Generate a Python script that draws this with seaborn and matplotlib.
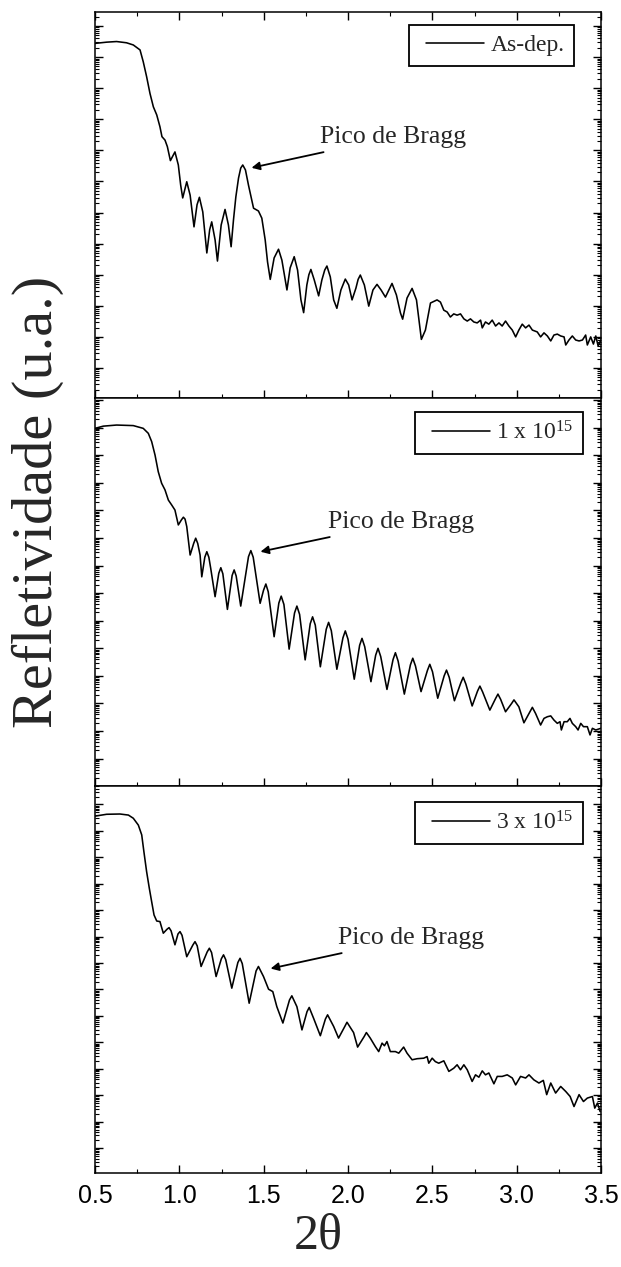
import numpy as np
import pandas as pd
import matplotlib
matplotlib.use("Agg")
import matplotlib.pyplot as plt
import seaborn as sns
from matplotlib.ticker import LogLocator, MultipleLocator, NullFormatter
from matplotlib.legend_handler import HandlerLine2D
from matplotlib.lines import Line2D

# ---------------- data (2theta in degrees, log10 of reflectivity, a.u.) ----------------
x_asdep = [0.500, 0.569, 0.628, 0.687, 0.727, 0.767, 0.786, 0.806, 0.826, 0.846, 0.866, 0.885,
           0.897, 0.915, 0.929, 0.947, 0.974, 0.994, 1.008, 1.020, 1.044, 1.064, 1.087, 1.105,
           1.119, 1.139, 1.163, 1.180, 1.192, 1.212, 1.226, 1.248, 1.271, 1.291, 1.307, 1.321,
           1.335, 1.351, 1.364, 1.376, 1.392, 1.410, 1.440, 1.469, 1.489, 1.509, 1.523, 1.539,
           1.562, 1.588, 1.608, 1.638, 1.657, 1.681, 1.701, 1.721, 1.737, 1.756, 1.768, 1.780,
           1.800, 1.826, 1.845, 1.862, 1.875, 1.895, 1.915, 1.934, 1.958, 1.984, 2.004, 2.024,
           2.047, 2.060, 2.073, 2.097, 2.123, 2.148, 2.172, 2.196, 2.222, 2.261, 2.287, 2.311,
           2.324, 2.350, 2.380, 2.406, 2.435, 2.459, 2.489, 2.528, 2.548, 2.568, 2.588, 2.607,
           2.627, 2.647, 2.667, 2.687, 2.707, 2.726, 2.746, 2.766, 2.786, 2.796, 2.815, 2.835,
           2.855, 2.875, 2.895, 2.914, 2.934, 2.954, 2.974, 2.994, 3.013, 3.033, 3.053, 3.073,
           3.093, 3.122, 3.142, 3.162, 3.182, 3.202, 3.221, 3.241, 3.261, 3.281, 3.291, 3.310,
           3.330, 3.350, 3.370, 3.390, 3.409, 3.419, 3.439, 3.455, 3.469, 3.483, 3.499]
logR_asdep = [10.44, 10.48, 10.50, 10.46, 10.39, 10.23, 9.85, 9.37, 8.83, 8.40, 8.14, 7.76,
              7.44, 7.33, 7.12, 6.67, 6.95, 6.53, 5.88, 5.47, 5.99, 5.56, 4.54, 5.25,
              5.49, 5.02, 3.70, 4.45, 4.70, 4.12, 3.44, 4.60, 5.10, 4.60, 3.90, 4.76,
              5.50, 6.11, 6.43, 6.53, 6.37, 5.88, 5.14, 5.05, 4.82, 4.12, 3.41, 2.85,
              3.54, 3.82, 3.47, 2.51, 3.22, 3.58, 3.15, 2.19, 1.78, 2.67, 3.00, 3.17,
              2.83, 2.32, 2.83, 3.15, 3.28, 2.93, 2.19, 1.92, 2.51, 2.86, 2.67, 2.19,
              2.57, 2.85, 2.99, 2.67, 1.99, 2.51, 2.69, 2.51, 2.28, 2.72, 2.35, 1.77,
              1.57, 2.25, 2.56, 2.19, 0.92, 1.22, 2.09, 2.19, 2.12, 1.86, 1.80, 1.64,
              1.74, 1.70, 1.74, 1.58, 1.51, 1.58, 1.48, 1.45, 1.54, 1.29, 1.48, 1.41,
              1.54, 1.35, 1.45, 1.35, 1.51, 1.35, 1.22, 1.00, 1.22, 1.41, 1.29, 1.38,
              1.22, 1.16, 1.00, 1.13, 1.03, 0.87, 1.06, 1.09, 1.03, 1.00, 0.74, 0.90,
              1.03, 0.90, 0.87, 0.90, 1.06, 0.74, 1.00, 0.77, 1.03, 0.71, 0.90]

x_1e15 = [0.500, 0.549, 0.628, 0.727, 0.786, 0.816, 0.836, 0.856, 0.875, 0.895, 0.915, 0.935,
          0.955, 0.974, 0.994, 1.012, 1.024, 1.034, 1.044, 1.064, 1.085, 1.097, 1.109, 1.123,
          1.133, 1.151, 1.163, 1.175, 1.186, 1.212, 1.234, 1.246, 1.258, 1.285, 1.313, 1.325,
          1.337, 1.364, 1.410, 1.424, 1.438, 1.479, 1.499, 1.513, 1.527, 1.562, 1.590, 1.604,
          1.620, 1.651, 1.683, 1.697, 1.713, 1.746, 1.776, 1.790, 1.806, 1.836, 1.871, 1.885,
          1.901, 1.934, 1.970, 1.984, 2.000, 2.037, 2.069, 2.083, 2.099, 2.136, 2.164, 2.178,
          2.194, 2.231, 2.267, 2.281, 2.297, 2.334, 2.370, 2.384, 2.400, 2.433, 2.471, 2.485,
          2.501, 2.532, 2.570, 2.584, 2.600, 2.631, 2.669, 2.683, 2.699, 2.736, 2.768, 2.782,
          2.798, 2.841, 2.875, 2.889, 2.905, 2.934, 2.970, 2.984, 3.013, 3.043, 3.093, 3.112,
          3.142, 3.162, 3.182, 3.202, 3.221, 3.241, 3.257, 3.265, 3.281, 3.300, 3.316, 3.330,
          3.350, 3.364, 3.380, 3.396, 3.419, 3.435, 3.449, 3.469, 3.499]
logR_1e15 = [11.97, 12.05, 12.09, 12.07, 11.97, 11.79, 11.49, 11.00, 10.40, 9.98, 9.74, 9.37,
             9.19, 9.01, 8.47, 8.65, 8.75, 8.68, 8.41, 7.38, 7.80, 7.99, 7.80, 7.38,
             6.59, 7.30, 7.50, 7.30, 6.90, 5.87, 6.72, 6.92, 6.70, 5.41, 6.64, 6.84,
             6.62, 5.53, 7.32, 7.54, 7.30, 5.63, 6.10, 6.33, 6.05, 4.42, 5.64, 5.89,
             5.59, 3.97, 5.28, 5.53, 5.23, 3.58, 4.89, 5.14, 4.84, 3.33, 4.69, 4.94,
             4.64, 3.24, 4.38, 4.63, 4.33, 2.88, 4.11, 4.36, 4.06, 2.79, 3.75, 4.00,
             3.70, 2.51, 3.59, 3.84, 3.54, 2.34, 3.40, 3.64, 3.36, 2.43, 3.20, 3.42,
             3.15, 2.19, 3.00, 3.21, 2.95, 2.10, 2.75, 2.95, 2.70, 1.91, 2.45, 2.63,
             2.42, 1.76, 2.18, 2.34, 2.15, 1.70, 2.00, 2.13, 1.88, 1.30, 1.86, 1.64,
             1.22, 1.46, 1.52, 1.55, 1.40, 1.28, 1.34, 1.04, 1.34, 1.34, 1.46, 1.28,
             1.16, 1.04, 1.28, 1.16, 1.16, 0.86, 1.10, 1.04, 1.10]

x_3e15 = [0.500, 0.569, 0.648, 0.698, 0.727, 0.757, 0.777, 0.790, 0.806, 0.822, 0.836, 0.850,
          0.866, 0.885, 0.905, 0.927, 0.939, 0.951, 0.974, 0.992, 1.004, 1.016, 1.044, 1.080,
          1.093, 1.106, 1.129, 1.165, 1.178, 1.191, 1.218, 1.249, 1.262, 1.275, 1.311, 1.347,
          1.360, 1.373, 1.414, 1.455, 1.469, 1.499, 1.529, 1.554, 1.578, 1.614, 1.653, 1.667,
          1.697, 1.727, 1.757, 1.770, 1.796, 1.836, 1.866, 1.879, 1.915, 1.944, 1.981, 1.994,
          2.033, 2.057, 2.096, 2.109, 2.132, 2.162, 2.182, 2.202, 2.216, 2.231, 2.251, 2.281,
          2.301, 2.330, 2.350, 2.380, 2.410, 2.449, 2.469, 2.479, 2.499, 2.518, 2.538, 2.568,
          2.598, 2.627, 2.647, 2.667, 2.687, 2.707, 2.736, 2.756, 2.776, 2.796, 2.815, 2.835,
          2.865, 2.885, 2.914, 2.944, 2.974, 2.994, 3.023, 3.053, 3.073, 3.102, 3.132, 3.158,
          3.178, 3.202, 3.231, 3.261, 3.291, 3.317, 3.340, 3.370, 3.396, 3.419, 3.449, 3.463,
          3.479, 3.495]
logR_3e15 = [12.56, 12.63, 12.64, 12.60, 12.48, 12.22, 11.85, 11.21, 10.46, 9.83, 9.32, 8.82,
             8.59, 8.57, 8.13, 8.28, 8.34, 8.22, 7.69, 8.10, 8.19, 8.05, 7.24, 7.68,
             7.81, 7.65, 6.87, 7.42, 7.56, 7.40, 6.49, 7.16, 7.31, 7.13, 6.05, 7.02,
             7.18, 6.98, 5.48, 6.70, 6.87, 6.49, 6.01, 5.92, 5.35, 4.73, 5.60, 5.76,
             5.35, 4.47, 5.16, 5.32, 4.91, 4.25, 4.88, 5.04, 4.60, 4.16, 4.60, 4.76,
             4.37, 3.82, 4.22, 4.37, 4.16, 3.84, 3.65, 3.97, 3.87, 4.03, 3.65, 3.65,
             3.59, 3.82, 3.59, 3.34, 3.38, 3.40, 3.46, 3.21, 3.40, 3.27, 3.21, 3.30,
             2.90, 3.02, 3.15, 2.96, 3.15, 2.96, 2.52, 2.77, 2.68, 2.92, 2.77, 2.84,
             2.43, 2.71, 2.71, 2.77, 2.65, 2.39, 2.71, 2.65, 2.77, 2.58, 2.46, 2.56,
             2.02, 2.46, 2.08, 2.33, 2.14, 1.95, 1.57, 2.02, 1.76, 1.89, 1.95, 1.51,
             1.70, 1.38]

series_labels = ["As-dep.", "1 x 10$^{15}$", "3 x 10$^{15}$"]
bragg_label = "Pico de Bragg"
x_label = "2\u03b8"
y_label = "Refletividade (u.a.)"
x_tick_values = [0.5, 1.0, 1.5, 2.0, 2.5, 3.0, 3.5]

# ---------------- style ----------------
sns.set_style("ticks")
plt.rcParams["font.family"] = ["Liberation Serif", "DejaVu Serif"]
plt.rcParams["mathtext.fontset"] = "custom"
plt.rcParams["mathtext.rm"] = "Liberation Serif"
plt.rcParams["mathtext.it"] = "Liberation Serif:italic"
plt.rcParams["axes.linewidth"] = 1.1

W, H = 621, 1267
fig = plt.figure(figsize=(W / 100, H / 100), dpi=100)

panel_px = [(12, 398), (398, 786), (786, 1173)]
ylims = [(-0.965, 11.45), (-0.99, 13.07), (-0.945, 13.70)]
legend_anchor = [(0.947, 0.966), (0.964, 0.964), (0.964, 0.959)]
arrow_tip = [(1.420, 6.43), (1.473, 7.49), (1.533, 6.78)]
text_pos = [(1.836, 7.43), (1.883, 8.58), (1.943, 7.95)]

data = [(x_asdep, logR_asdep), (x_1e15, logR_1e15), (x_3e15, logR_3e15)]

left, right = 95, 601
for i, ((top, bot), (xs, lr)) in enumerate(zip(panel_px, data)):
    ax = fig.add_axes([left / W, 1 - bot / H, (right - left) / W, (bot - top) / H])
    df = pd.DataFrame({"two_theta": xs, "R": np.power(10.0, lr)})
    sns.lineplot(data=df, x="two_theta", y="R", ax=ax, color="black", lw=1.15,
                 estimator=None, sort=False, label=series_labels[i])
    ax.set_yscale("log")
    ax.set_xlim(0.5, 3.5)
    ax.set_ylim(10 ** ylims[i][0], 10 ** ylims[i][1])
    ax.yaxis.set_major_locator(LogLocator(base=10, numticks=60))
    ax.yaxis.set_minor_locator(LogLocator(base=10, subs=np.arange(2, 10), numticks=60))
    ax.yaxis.set_major_formatter(NullFormatter())
    ax.yaxis.set_minor_formatter(NullFormatter())
    ax.xaxis.set_major_locator(MultipleLocator(0.5))
    ax.xaxis.set_minor_locator(MultipleLocator(0.25))
    ax.tick_params(axis="both", which="both", direction="in", right=True,
                   top=(i == 0), labelleft=False, colors="black")
    ax.tick_params(which="major", length=5.5, width=1.0)
    ax.tick_params(which="minor", length=3, width=0.8)
    ax.set_xlabel("")
    ax.set_ylabel("")
    for s in ax.spines.values():
        s.set_color("black")
        s.set_linewidth(1.1)
    if i < 2:
        ax.tick_params(axis="x", labelbottom=False)
    else:
        ax.set_xticks(x_tick_values)
        ax.set_xticklabels([f"{v:.1f}" for v in x_tick_values],
                           family="Liberation Sans", fontsize=18)
        ax.tick_params(axis="x", pad=8)
    leg = ax.legend(loc="upper right", bbox_to_anchor=legend_anchor[i], fontsize=17,
                    frameon=True, fancybox=False, framealpha=1, edgecolor="black",
                    handlelength=2.78, handletextpad=0.28, borderpad=0.4,
                    borderaxespad=0,
                    handler_map={Line2D: HandlerLine2D(xpad=0.32)})
    leg.get_frame().set_linewidth(1.3)
    ax.annotate(bragg_label, xy=(arrow_tip[i][0], 10 ** arrow_tip[i][1]),
                xytext=(text_pos[i][0], 10 ** text_pos[i][1]),
                ha="left", va="center", fontsize=18.5,
                arrowprops=dict(arrowstyle="-|>", color="black", lw=1.3,
                                shrinkA=3, shrinkB=1, mutation_scale=12))

fig.text(318 / W, 1 - 1236 / H, x_label, ha="center", va="center", fontsize=36)
fig.text(38 / W, 1 - 502 / H, y_label, ha="center", va="center",
         rotation=90, fontsize=42)

fig.savefig("out.png", dpi=100)
